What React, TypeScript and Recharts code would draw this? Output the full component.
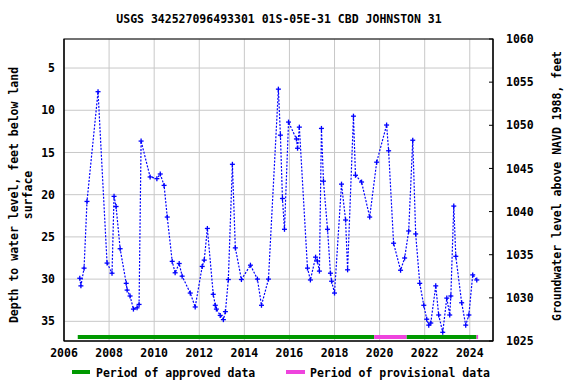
import React from "react";
import {
  LineChart,
  Line,
  XAxis,
  YAxis,
  CartesianGrid,
  ReferenceArea,
} from "recharts";

// measurement dates (decimal year) and depth to water, ft below land surface
const years = [
  2006.7, 2006.75, 2006.89, 2007.02, 2007.51, 2007.91, 2008.13, 2008.22, 2008.31, 2008.49,
  2008.76, 2008.8, 2008.93, 2009.08, 2009.24, 2009.33, 2009.42, 2009.82, 2010.12, 2010.27,
  2010.44, 2010.58, 2010.8, 2010.93, 2011.11, 2011.24, 2011.6, 2011.82, 2012.13, 2012.22,
  2012.36, 2012.62, 2012.71, 2012.76, 2012.93, 2013.07, 2013.16, 2013.29, 2013.47, 2013.6,
  2013.87, 2014.27, 2014.58, 2014.76, 2015.07, 2015.51, 2015.6, 2015.69, 2015.78, 2015.96,
  2016.31, 2016.36, 2016.44, 2016.8, 2016.93, 2017.16, 2017.24, 2017.33, 2017.42, 2017.51,
  2017.69, 2017.82, 2017.87, 2018.0, 2018.31, 2018.49, 2018.58, 2018.84, 2018.93, 2019.2,
  2019.56, 2019.87, 2020.31, 2020.4, 2020.62, 2020.93, 2021.11, 2021.29, 2021.47, 2021.6,
  2021.78, 2021.96, 2022.09, 2022.18, 2022.27, 2022.49, 2022.62, 2022.8, 2022.98, 2023.11,
  2023.16, 2023.29, 2023.38, 2023.64, 2023.82, 2023.96, 2024.13, 2024.31,
];
const depths = [
  29.9, 30.8, 28.7, 20.8, 7.8, 28.1, 29.3, 20.2, 21.4, 26.4,
  30.5, 31.3, 32.0, 33.55, 33.4, 33.0, 13.65, 17.9, 18.1, 17.55,
  18.9, 22.65, 27.9, 29.25, 28.15, 29.65, 31.65, 33.3, 28.5, 27.75,
  24.0, 31.8, 33.1, 33.55, 34.3, 34.8, 33.85, 30.05, 16.4, 26.3,
  30.05, 28.35, 30.0, 33.1, 30.0, 7.5, 12.95, 20.45, 24.1, 11.4,
  13.4, 14.5, 12.0, 28.7, 30.1, 27.4, 27.85, 29.05, 12.15, 18.4,
  24.1, 29.3, 30.25, 31.65, 18.75, 23.0, 28.9, 10.7, 17.7, 18.5,
  22.65, 16.15, 11.75, 14.8, 25.75, 28.95, 27.5, 24.3, 13.55, 24.65,
  30.5, 33.1, 34.75, 35.45, 35.2, 30.8, 34.25, 36.3, 32.25, 34.25,
  32.0, 21.35, 27.3, 32.8, 35.45, 34.25, 29.5, 30.1,
];

// data-status periods [start, end]
const approvedPeriods = [
  [2006.61, 2019.76],
  [2021.19, 2024.3],
];
const provisionalPeriods = [
  [2019.76, 2021.19],
  [2024.3, 2024.37],
];

const yearTicks = [2006, 2008, 2010, 2012, 2014, 2016, 2018, 2020, 2022, 2024];
const depthTicks = [5, 10, 15, 20, 25, 30, 35];
const levelTicks = [1025, 1030, 1035, 1040, 1045, 1050, 1055, 1060];

const X_DOMAIN: [number, number] = [2006, 2025.03];
const DEPTH_DOMAIN: [number, number] = [1.56, 37.33];
const LEVEL_DOMAIN: [number, number] = [1025, 1060];
const BAR_DEPTH = 36.85;

const FONT = "'DejaVu Sans Mono', monospace";
const tickStyle = { fontSize: 11.5, fill: "#000", fontFamily: FONT, fontWeight: 700 };

const series = years.map((x, i) => ({ x, depth: depths[i] }));

function Plus(props: any) {
  const { cx, cy } = props;
  if (cx == null || cy == null) return null;
  return (
    <g stroke="#0000ff" strokeWidth={1.3}>
      <line x1={cx - 2.5} x2={cx + 2.5} y1={cy} y2={cy} />
      <line x1={cx} x2={cx} y1={cy - 2.5} y2={cy + 2.5} />
    </g>
  );
}

function periodLine(p: number[], key: string, color: string) {
  return (
    <Line
      key={key}
      yAxisId="left"
      data={[
        { x: p[0], depth: BAR_DEPTH },
        { x: p[1], depth: BAR_DEPTH },
      ]}
      dataKey="depth"
      stroke={color}
      strokeWidth={4}
      dot={false}
      isAnimationActive={false}
    />
  );
}

export default function App() {
  return (
    <div style={{ position: "absolute", left: 0, top: 0, width: 576, height: 384, background: "#fff" }}>
      <LineChart
        width={576}
        height={384}
        margin={{ top: 39, right: 0, bottom: 20, left: 0 }}
      >
        <CartesianGrid yAxisId="left" stroke="#c8c8c8" strokeWidth={1} />
        <XAxis
          dataKey="x"
          type="number"
          domain={X_DOMAIN}
          ticks={yearTicks}
          allowDataOverflow
          height={23}
          tick={tickStyle}
          tickLine={false}
          tickSize={-4}
          tickMargin={12}
          stroke="#000"
        />
        <YAxis
          yAxisId="left"
          reversed
          type="number"
          domain={DEPTH_DOMAIN}
          ticks={depthTicks}
          allowDataOverflow
          width={64}
          tick={tickStyle}
          tickLine={false}
          tickSize={-4}
          tickMargin={13}
          stroke="#000"
        />
        <YAxis
          yAxisId="right"
          orientation="right"
          type="number"
          domain={LEVEL_DOMAIN}
          ticks={levelTicks}
          allowDataOverflow
          width={83}
          tick={tickStyle}
          tickSize={-4}
          tickMargin={17}
          stroke="#000"
        />
        <ReferenceArea
          yAxisId="left"
          x1={X_DOMAIN[0]}
          x2={X_DOMAIN[1]}
          y1={DEPTH_DOMAIN[0]}
          y2={DEPTH_DOMAIN[1]}
          fill="none"
          stroke="#000"
          strokeWidth={1.2}
        />
        <Line
          yAxisId="left"
          data={series}
          dataKey="depth"
          stroke="#0000ff"
          strokeWidth={1.2}
          strokeDasharray="2 1.5"
          dot={<Plus />}
          isAnimationActive={false}
        />
        {approvedPeriods.map((p, i) => periodLine(p, "a" + i, "#009900"))}
        {provisionalPeriods.map((p, i) => periodLine(p, "p" + i, "#ee44dd"))}
      </LineChart>

      <svg
        width={576}
        height={384}
        style={{ position: "absolute", left: 0, top: 0, pointerEvents: "none" }}
        fontFamily={FONT}
        fontWeight={700}
        fontSize={11.5}
      >
        <text x={279} y={23} textAnchor="middle">
          USGS 342527096493301 01S-05E-31 CBD JOHNSTON 31
        </text>
        <text transform="translate(18,195) rotate(-90)" textAnchor="middle">
          Depth to water level, feet below land
        </text>
        <text transform="translate(32,195) rotate(-90)" textAnchor="middle">
          surface
        </text>
        <text transform="translate(561,186) rotate(-90)" textAnchor="middle">
          Groundwater level above NAVD 1988, feet
        </text>
        <line x1={72} x2={90} y1={372} y2={372} stroke="#009900" strokeWidth={4} />
        <text x={96} y={377}>Period of approved data</text>
        <line x1={286} x2={305} y1={372} y2={372} stroke="#ee44dd" strokeWidth={4} />
        <text x={310} y={377}>Period of provisional data</text>
      </svg>
    </div>
  );
}
